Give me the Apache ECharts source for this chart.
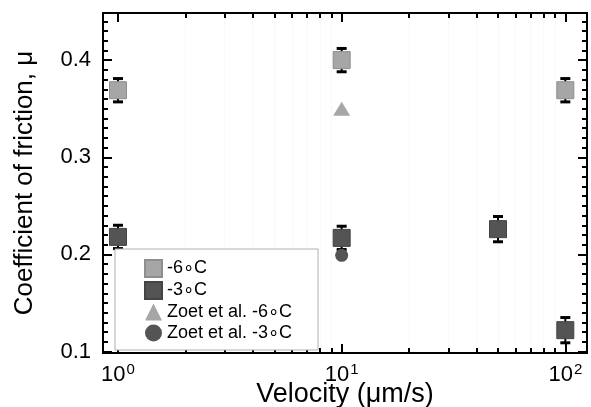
<!DOCTYPE html>
<html><head><meta charset="utf-8">
<script src="https://cdn.jsdelivr.net/npm/echarts@6/dist/echarts.min.js"></script>
<style>html,body{margin:0;padding:0;background:#fff}#c{width:591px;height:407px}</style>
</head><body><div id="c"></div>
<script>
// Data
const seriesNames = ['-6\u2218C', '-3\u2218C', 'Zoet et al. -6\u2218C', 'Zoet et al. -3\u2218C'];
const velM6 = [1, 10, 100];
const muM6 = [0.369, 0.400, 0.369];
const errM6 = [0.012, 0.012, 0.012];
const velM3 = [1, 10, 50, 100];
const muM3 = [0.218, 0.217, 0.226, 0.122];
const errM3 = [0.012, 0.012, 0.013, 0.013];
const velZoetM6 = [10];
const muZoetM6 = [0.350];
const velZoetM3 = [10];
const muZoetM3 = [0.199];
const xMajor = [1, 10, 100];
const xMinor = [2,3,4,5,6,7,8,9,20,30,40,50,60,70,80,90];
const yMajor = [0.1, 0.2, 0.3, 0.4];
const yMinor = [0.11,0.12,0.13,0.14,0.15,0.16,0.17,0.18,0.19,0.21,0.22,0.23,0.24,0.25,0.26,0.27,0.28,0.29,0.31,0.32,0.33,0.34,0.35,0.36,0.37,0.38,0.39,0.41,0.42,0.43,0.44];

const XMIN = 0.857, XMAX = 125, YMIN = 0.0985, YMAX = 0.4485;
const FONT = '"Liberation Sans", Arial, Helvetica, sans-serif';
const LIGHT = '#a6a6a6', DARK = '#545454';

function pairs(xs, ys) { return xs.map((x, i) => [x, ys[i]]); }
function errData(xs, ys, es) { return xs.map((x, i) => [x, ys[i] - es[i], ys[i] + es[i]]); }

function xAxisDef(pos, major, showLabel) {
  return {
    type: 'log', logBase: 10, min: XMIN, max: XMAX, position: pos,
    axisLine: { show: true, onZero: false, lineStyle: { color: '#000', width: 2 } },
    axisTick: { show: true, inside: true, length: major ? 9 : 5, lineStyle: { color: '#000', width: 2 },
      customValues: major ? xMajor : xMinor },
    axisLabel: { show: showLabel, customValues: xMajor, margin: 9, color: '#000', fontFamily: FONT,
      formatter: v => '{b|10}{s|' + Math.round(Math.log10(v)) + '}',
      rich: { b: { fontSize: 22, fontFamily: FONT, color: '#000' },
              s: { fontSize: 15, fontFamily: FONT, color: '#000', padding: [0, 0, 11, 1] } } },
    splitLine: { show: !major && pos === 'bottom', lineStyle: { color: '#f3f3f3', type: 'dotted', width: 1 } },
    name: showLabel ? 'Velocity (\u03bcm/s)' : '', nameLocation: 'middle', nameGap: 28, nameMoveOverlap: false,
    nameTextStyle: { fontSize: 27, fontFamily: FONT, color: '#000' }
  };
}
function yAxisDef(pos, major, showLabel) {
  return {
    type: 'value', min: YMIN, max: YMAX, position: pos,
    axisLine: { show: true, onZero: false, lineStyle: { color: '#000', width: 2 } },
    axisTick: { show: true, inside: true, length: major ? 9 : 5, lineStyle: { color: '#000', width: 2 },
      customValues: major ? yMajor : yMinor },
    axisLabel: { show: showLabel, customValues: yMajor, margin: 12, color: '#000', fontSize: 22, fontFamily: FONT,
      formatter: v => v.toFixed(1) },
    splitLine: { show: false },
    name: showLabel ? 'Coefficient of friction, \u03bc' : '', nameLocation: 'middle', nameGap: 65, nameMoveOverlap: false,
    nameTextStyle: { fontSize: 26, fontFamily: FONT, color: '#000' }
  };
}

function errRender(params, api) {
  const x = api.value(0), lo = api.value(1), hi = api.value(2);
  const pLo = api.coord([x, lo]), pHi = api.coord([x, hi]);
  const w = 5;
  return { type: 'group', children: [
    { type: 'line', shape: { x1: pLo[0], y1: pLo[1], x2: pHi[0], y2: pHi[1] }, style: { stroke: '#000', lineWidth: 2 } },
    { type: 'line', shape: { x1: pLo[0] - w, y1: pLo[1], x2: pLo[0] + w, y2: pLo[1] }, style: { stroke: '#000', lineWidth: 3 } },
    { type: 'line', shape: { x1: pHi[0] - w, y1: pHi[1], x2: pHi[0] + w, y2: pHi[1] }, style: { stroke: '#000', lineWidth: 3 } }
  ]};
}

const chart = echarts.init(document.getElementById('c'), null, { renderer: 'canvas' });
chart.setOption({
  animation: false,
  backgroundColor: '#fff',
  textStyle: { fontFamily: FONT },
  grid: { left: 103, right: 4, top: 13, bottom: 54, containLabel: false, outerBoundsMode: 'none' },
  xAxis: [ xAxisDef('bottom', true, true), xAxisDef('bottom', false, false),
           xAxisDef('top', true, false), xAxisDef('top', false, false) ],
  yAxis: [ yAxisDef('left', true, true), yAxisDef('left', false, false),
           yAxisDef('right', true, false), yAxisDef('right', false, false) ],
  legend: {
    orient: 'vertical', left: 115, top: 249,
    padding: [10, 26, 8, 29],
    backgroundColor: '#fff', borderColor: '#b0b0b0', borderWidth: 1,
    itemWidth: 17, itemHeight: 17, itemGap: 3,
    textStyle: { fontSize: 18, fontFamily: FONT, color: '#000', lineHeight: 17 },
    data: seriesNames.map(n => ({ name: n }))
  },
  series: [
    { type: 'custom', name: 'err6', renderItem: errRender, data: errData(velM6, muM6, errM6), z: 1,
      encode: { x: 0, y: [1, 2] }, silent: true },
    { type: 'custom', name: 'err3', renderItem: errRender, data: errData(velM3, muM3, errM3), z: 1,
      encode: { x: 0, y: [1, 2] }, silent: true },
    { type: 'scatter', name: seriesNames[0], data: pairs(velM6, muM6), symbol: 'rect', symbolSize: 17, z: 3,
      itemStyle: { color: LIGHT, borderColor: '#8e8e8e', borderWidth: 1, opacity: 1 } },
    { type: 'scatter', name: seriesNames[1], data: pairs(velM3, muM3), symbol: 'rect', symbolSize: 17, z: 3,
      itemStyle: { color: DARK, borderColor: '#444', borderWidth: 1, opacity: 1 } },
    { type: 'scatter', name: seriesNames[2], data: pairs(velZoetM6, muZoetM6), symbol: 'triangle', symbolSize: [17, 14], z: 3,
      itemStyle: { color: LIGHT, opacity: 1 } },
    { type: 'scatter', name: seriesNames[3], data: pairs(velZoetM3, muZoetM3), symbol: 'circle', symbolSize: 13, z: 2,
      itemStyle: { color: DARK, opacity: 1 } }
  ]
});
</script></body></html>
